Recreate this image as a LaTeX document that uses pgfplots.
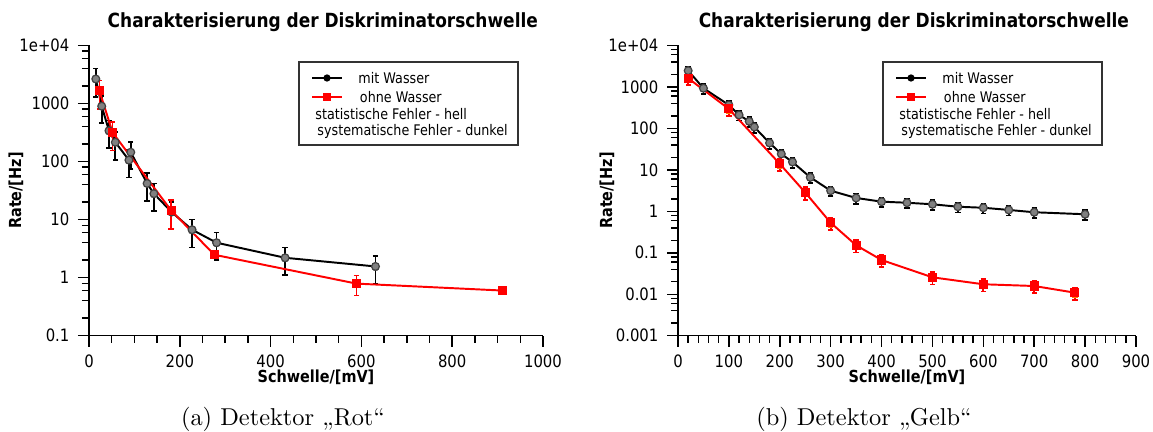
\documentclass[border=0pt]{standalone}
\usepackage{fontspec}
\usepackage{pgfplots}
\usepackage{pgfplotstable}
\pgfplotsset{compat=1.18}
\newfontfamily\pf[FakeStretch=0.87]{DejaVu Sans}
\def\u{0.41pt}

\pgfplotstableread{
x y e s
15 2650 1350 300
28 900 440 100
44 340 170 40
58 215 110 25
88 106 53 12
92 145 70 17
128 42 21 5
143 28 14 3.3
182 13.5 6.5 1.6
227 6.7 3.4 0.8
281 4.0 2.0 0.48
432 2.2 1.1 0.26
631 1.56 0.78 0.19
}\LA
\pgfplotstableread{
x y e s
23 1650 850 200
52 316 160 38
181 14.4 7.5 1.7
276 2.48 0.35 0.25
589 0.79 0.3 0.08
910 0.60 0.03 0.03
}\LB
\pgfplotstableread{
x y e s
20 2470 670 250
50 930 250 93
100 367 100 37
120 211 57 21
140 148 40 15
150 108 29 11
180 44.5 12 4.5
203 24.2 6.5 2.4
225 15.5 4.2 1.6
260 6.6 1.8 0.66
300 3.15 0.85 0.32
350 2.1 0.57 0.21
400 1.71 0.46 0.17
450 1.61 0.43 0.16
500 1.48 0.40 0.15
550 1.29 0.35 0.13
600 1.22 0.33 0.12
650 1.08 0.29 0.11
700 0.95 0.26 0.095
800 0.85 0.23 0.085
}\RA
\pgfplotstableread{
x y e s
20 1620 500 320
100 295 97 59
200 14 4.6 2.8
250 2.85 0.94 0.57
300 0.53 0.17 0.11
350 0.152 0.05 0.03
400 0.067 0.022 0.013
500 0.0256 0.0085 0.0051
600 0.0174 0.0057 0.0035
700 0.0158 0.0052 0.0032
780 0.0109 0.0036 0.0022
}\RB

\pgfplotsset{
  every axis/.append style={
    axis line style={-, line width=0.6pt},
    tick align=outside,
    major tick length={11*\u}, minor tick length={7*\u},
    every tick/.style={black, line width=0.6pt},
    tick label style={font=\pf\fontsize{7}{8}\selectfont},
    /pgf/number format/assume math mode=true,
    /pgf/number format/1000 sep={},
    label style={font=\pf\bfseries\fontsize{6.8}{8}\selectfont},
  },
  every axis title/.style={at={(rel axis cs:0.515,1.081)}, anchor=center,
    font=\pf\bfseries\fontsize{8}{9}\selectfont},
}

\newcommand\mylegend[1]{%
  \begin{scope}[yshift={432*\u}, x=\u, y=-\u, font=\pf\fontsize{6}{7}\selectfont]
    \draw[black!80, line width=0.5pt] (#1,62) rectangle (#1+219,145);
    \draw[black, line width=0.8pt] (#1+13,78) -- (#1+43,78);
    \fill[black] (#1+28,78) circle[radius=1.5pt];
    \draw[red, line width=0.8pt] (#1+13,96.7) -- (#1+43,96.7);
    \node[fill=red, minimum size=3.2pt, inner sep=0pt] at (#1+28,96.7) {};
    \node[anchor=west, inner sep=0pt] at (#1+59,78) {mit Wasser};
    \node[anchor=west, inner sep=0pt] at (#1+60.5,96.7) {ohne Wasser};
    \node[anchor=west, inner sep=0pt] at (#1+16,114) {statistische Fehler - hell};
    \node[anchor=west, inner sep=0pt] at (#1+18,131) {systematische Fehler - dunkel};
  \end{scope}}

\begin{document}
\begin{tikzpicture}
\path[use as bounding box] (0,0) rectangle ({1153*\u},{432*\u});

\begin{axis}[
  scale only axis, ymode=log,
  axis x line*=bottom, axis y line*=left,
  xtick pos=left, ytick pos=left,
  xlabel={Schwelle/[mV]}, ylabel={Rate/[Hz]},
  title={Charakterisierung der Diskriminatorschwelle},
  xlabel style={at={(rel axis cs:0.5,-0.142)}, anchor=center},
  ylabel style={at={(rel axis cs:-0.161,0.5)}, anchor=center},
  at={({89*\u},{96.3*\u})}, anchor=south west,
  width={454*\u}, height={290.2*\u},
  xmin=0, xmax=1000, ymin=0.1, ymax=10000,
  xtick={0,200,...,1000}, minor x tick num=3,
  ytick={0.1,1,10,100,1000,10000},
  yticklabels={0.1,1,10,100,1000,1e+04},
  minor ytick={0.2,0.4,0.6,0.8,2,4,6,8,20,40,60,80,200,400,600,800,2000,4000,6000,8000},
]
\addplot[black, line width=0.8pt, mark=*, mark size=1.6pt,
    mark options={fill=gray, draw=black!75, line width=0.5pt},
    error bars/.cd, y dir=both, y explicit,
    error bar style={line width=0.7pt, black},
    error mark options={rotate=90, mark size=1.1pt, line width=0.7pt, black}]
  table[x=x, y=y, y error=e] {\LA};
\addplot[red, line width=0.8pt, mark=square*, mark size=1.6pt,
    mark options={fill=red, draw=red, line width=0.5pt},
    error bars/.cd, y dir=both, y explicit,
    error bar style={line width=0.7pt, red},
    error mark options={rotate=90, mark size=1.1pt, line width=0.7pt, red}]
  table[x=x, y=y, y error=e] {\LB};
\addplot[draw=none, mark=none, forget plot,
    error bars/.cd, y dir=both, y explicit,
    error bar style={line width=0.7pt, draw=gray!70},
    error mark options={rotate=90, mark size=1.1pt, line width=0.7pt, draw=gray!70}]
  table[x=x, y=y, y error=s] {\LA};
\addplot[draw=none, mark=none, forget plot,
    error bars/.cd, y dir=both, y explicit,
    error bar style={line width=0.7pt, draw=orange},
    error mark options={rotate=90, mark size=1.1pt, line width=0.7pt, draw=orange}]
  table[x=x, y=y, y error=s] {\LB};
\end{axis}

\begin{axis}[
  scale only axis, ymode=log,
  axis x line*=bottom, axis y line*=left,
  xtick pos=left, ytick pos=left,
  xlabel={Schwelle/[mV]}, ylabel={Rate/[Hz]},
  title={Charakterisierung der Diskriminatorschwelle},
  xlabel style={at={(rel axis cs:0.5,-0.142)}, anchor=center},
  ylabel style={at={(rel axis cs:-0.155,0.5)}, anchor=center},
  at={({678*\u},{96.3*\u})}, anchor=south west,
  width={458*\u}, height={290.2*\u},
  xmin=0, xmax=900, ymin=0.001, ymax=10000,
  xtick={0,100,...,900}, minor x tick num=4,
  ytick={0.001,0.01,0.1,1,10,100,1000,10000},
  yticklabels={0.001,0.01,0.1,1,10,100,1000,1e+04},
  minor ytick={0.002,0.004,0.006,0.008,0.02,0.04,0.06,0.08,0.2,0.4,0.6,0.8,2,4,6,8,20,40,60,80,200,400,600,800,2000,4000,6000,8000},
]
\addplot[black, line width=0.8pt, mark=*, mark size=1.6pt,
    mark options={fill=gray, draw=black!75, line width=0.5pt},
    error bars/.cd, y dir=both, y explicit,
    error bar style={line width=0.7pt, black},
    error mark options={rotate=90, mark size=1.1pt, line width=0.7pt, black}]
  table[x=x, y=y, y error=e] {\RA};
\addplot[red, line width=0.8pt, mark=square*, mark size=1.6pt,
    mark options={fill=red, draw=red, line width=0.5pt},
    error bars/.cd, y dir=both, y explicit,
    error bar style={line width=0.7pt, red},
    error mark options={rotate=90, mark size=1.1pt, line width=0.7pt, red}]
  table[x=x, y=y, y error=e] {\RB};
\addplot[draw=none, mark=none, forget plot,
    error bars/.cd, y dir=both, y explicit,
    error bar style={line width=0.7pt, draw=gray!70},
    error mark options={rotate=90, mark size=1.1pt, line width=0.7pt, draw=gray!70}]
  table[x=x, y=y, y error=s] {\RA};
\addplot[draw=none, mark=none, forget plot,
    error bars/.cd, y dir=both, y explicit,
    error bar style={line width=0.7pt, draw=orange},
    error mark options={rotate=90, mark size=1.1pt, line width=0.7pt, draw=orange}]
  table[x=x, y=y, y error=s] {\RB};
\end{axis}

\mylegend{299}
\mylegend{883}

\node[anchor=base] at ({283*\u},{6.3*\u}) {(a) Detektor „Rot“};
\node[anchor=base] at ({864*\u},{6.3*\u}) {(b) Detektor „Gelb“};
\end{tikzpicture}
\end{document}
